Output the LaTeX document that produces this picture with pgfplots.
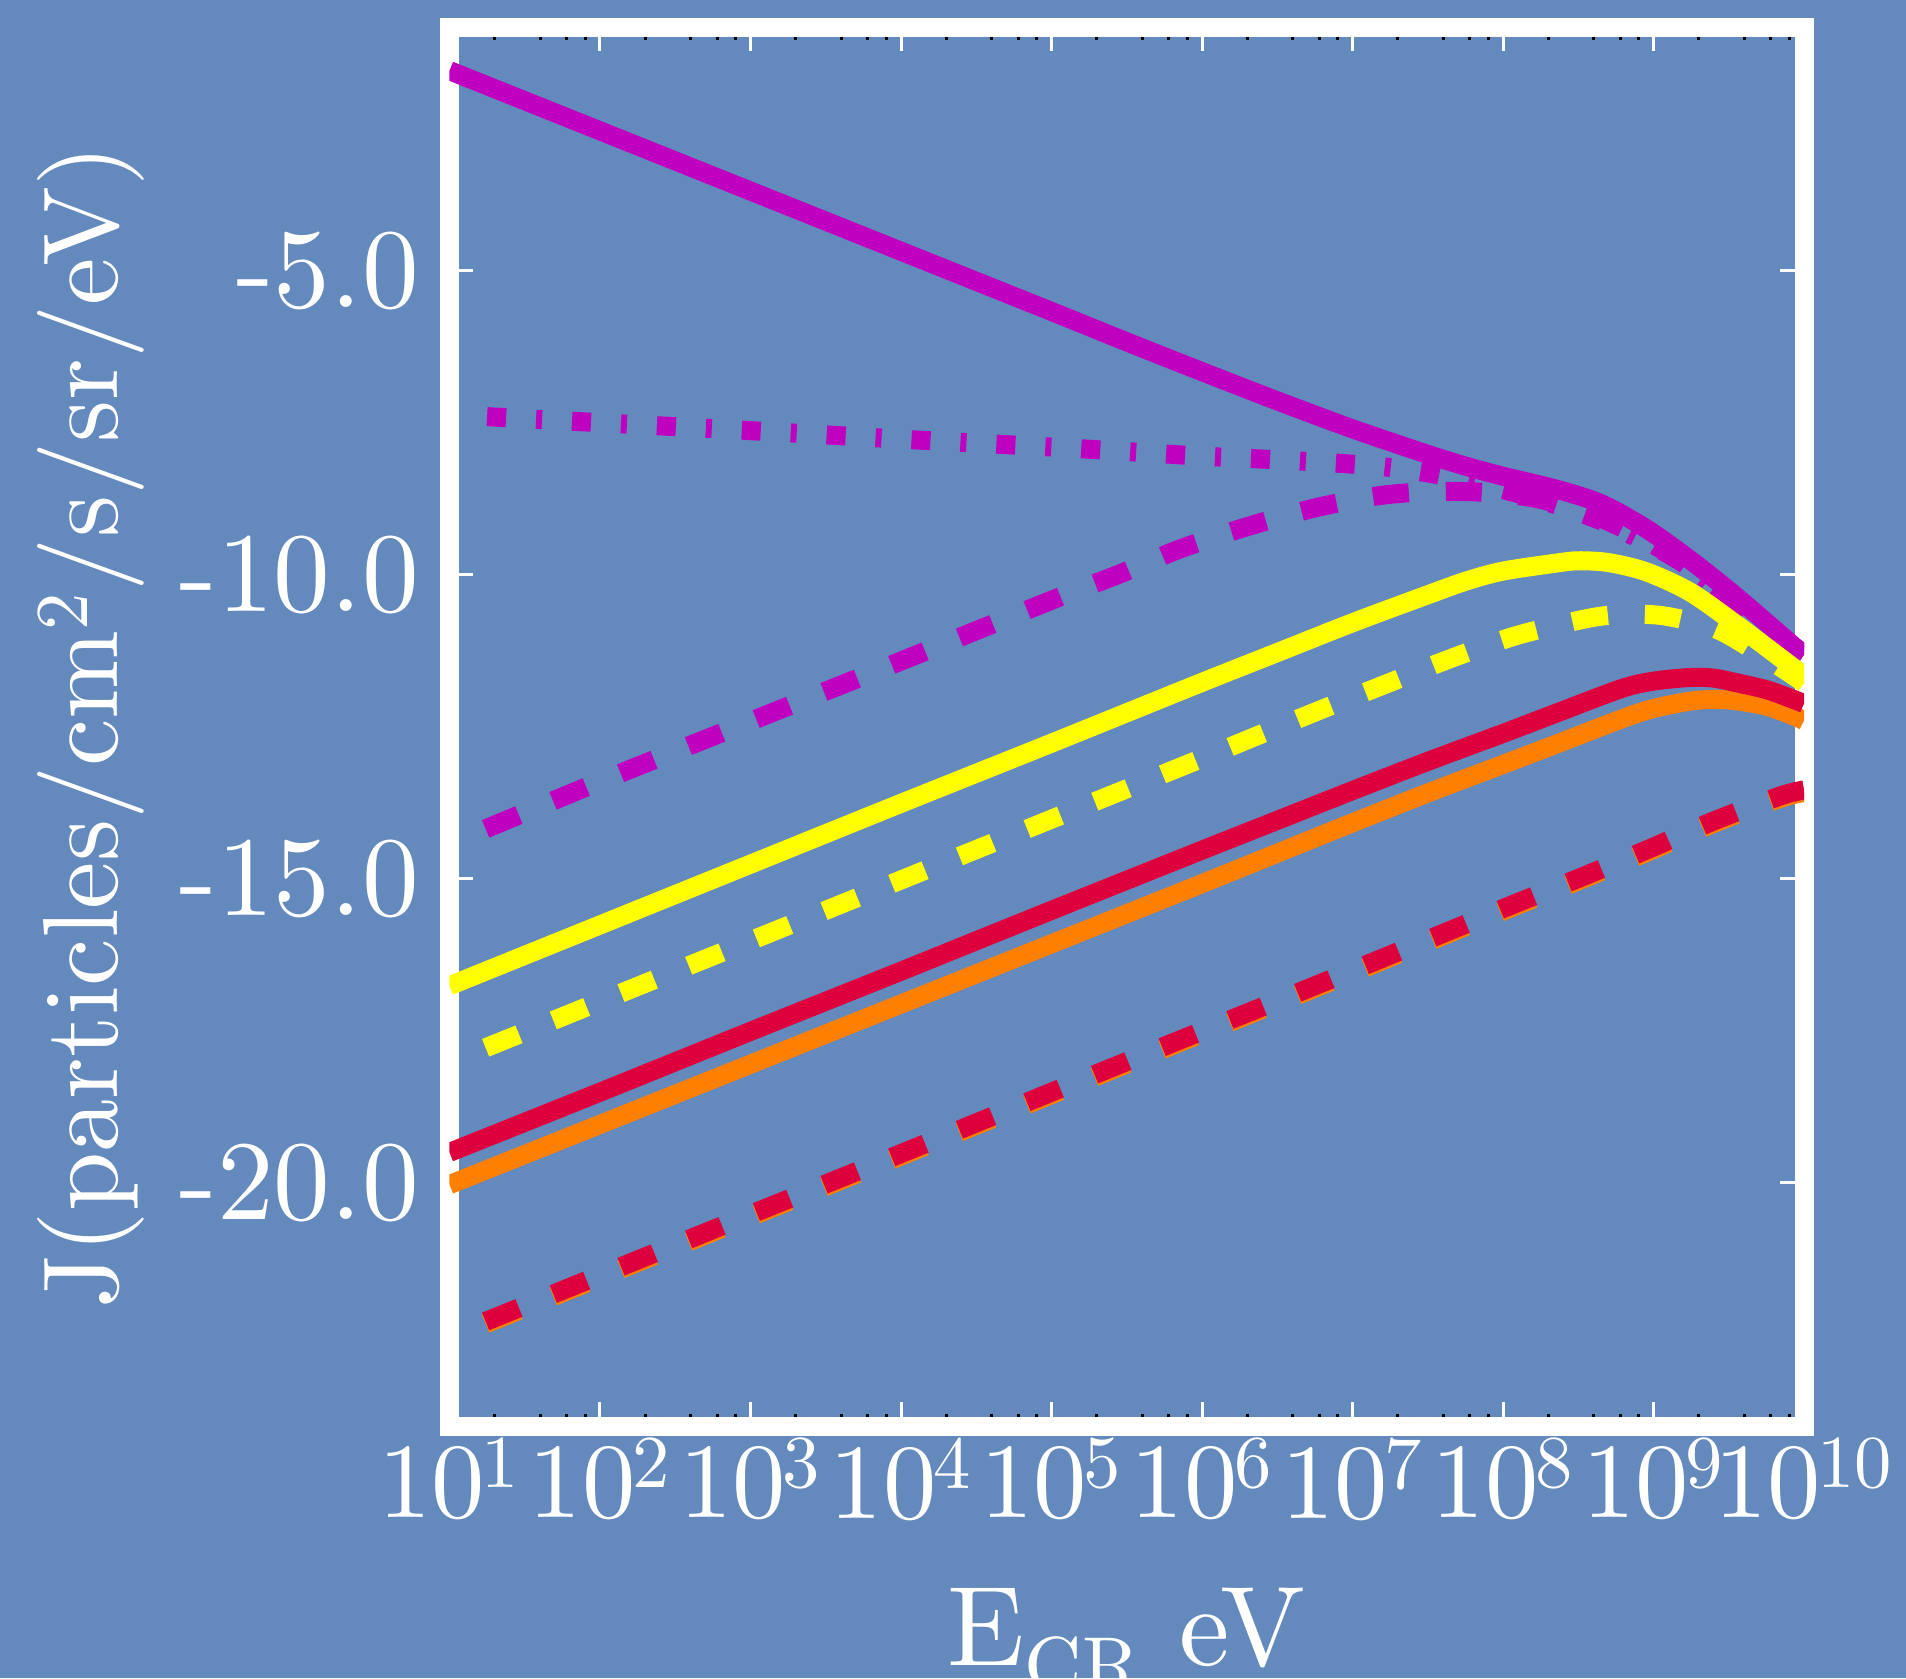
\documentclass[border=0pt]{standalone}
\usepackage{fontspec}
\setmainfont{lmroman10-regular.otf}
\usepackage{pgfplots}
\pgfplotsset{compat=1.18}
\definecolor{bg}{RGB}{100,137,189}
\definecolor{cmag}{RGB}{191,0,191}
\definecolor{cyel}{RGB}{255,255,0}
\definecolor{cred}{RGB}{222,0,60}
\definecolor{cora}{RGB}{255,128,0}
\newcommand{\tp}[1]{10\kern-1pt\textsuperscript{#1}}
\begin{document}
\begin{tikzpicture}
\path[fill=bg, use as bounding box] (-134.85pt,-75.6pt) rectangle (436.95pt,427.8pt);
\begin{axis}[
  at={(0,0)}, anchor=south west, scale only axis,
  width=406.35pt, height=419.55pt,
  xmin=1, xmax=10, ymin=-24, ymax=-1,
  axis line style={white, line width=5.7pt},
  tick align=inside,
  major tick length=7.2pt, minor tick length=3.75pt,
  major tick style={white, line width=0.9pt},
  minor tick style={black, line width=0.9pt},
  xtick={1,2,3,4,5,6,7,8,9,10},
  xticklabels={\tp{1},\tp{2},\tp{3},\tp{4},\tp{5},\tp{6},\tp{7},\tp{8},\tp{9},\tp{10}},
  minor xtick={1.30103,1.60206,1.77815,1.90309,2.30103,2.60206,2.77815,2.90309,3.30103,3.60206,3.77815,3.90309,4.30103,4.60206,4.77815,4.90309,5.30103,5.60206,5.77815,5.90309,6.30103,6.60206,6.77815,6.90309,7.30103,7.60206,7.77815,7.90309,8.30103,8.60206,8.77815,8.90309,9.30103,9.60206,9.77815,9.90309},
  ytick={-20,-15,-10,-5},
  yticklabels={-20.0,-15.0,-10.0,-5.0},
  tick label style={white, font=\fontsize{34}{40}\selectfont},
  xticklabel style={font=\fontsize{32}{38}\selectfont},
  yticklabel style={inner sep=0pt, xshift=-9pt},
  label style={white},
  xlabel={E\textsubscript{CR} eV},
  xlabel style={font=\fontsize{34}{40}\selectfont, at={(axis description cs:0.5,0)}, anchor=base, yshift=-71.7pt},
  ylabel={J(particles/cm\textsuperscript{2}/s/sr/eV)},
  ylabel style={font=\fontsize{32}{36}\selectfont, at={(axis description cs:-0.2646,0.5)}, anchor=center},
  every axis plot/.append style={no markers, smooth, line width=5.7pt, line cap=butt},
]
% magenta dash-dot
\addplot[cmag, dash pattern=on 5.7pt off 9pt on 1.8pt off 9pt] coordinates {
(1.25,-7.40) (2.0,-7.50) (3.0,-7.63) (4.0,-7.77) (5.0,-7.90) (5.54,-7.98) (6.0,-8.05) (6.5,-8.11) (6.96,-8.175) (7.23,-8.23) (7.51,-8.33) (7.8,-8.48) (8.21,-8.74) (8.65,-9.11) (9.07,-9.62) (9.30,-9.98) (9.6,-10.55) (10.0,-11.32)};
% magenta dashed
\addplot[cmag, dash pattern=on 10.8pt off 11.1pt] coordinates {
(1.24,-14.18) (2.0,-13.40) (3.0,-12.41) (4.0,-11.42) (5.0,-10.42) (5.45,-9.99) (5.85,-9.58) (6.30,-9.21) (6.77,-8.89) (7.24,-8.68) (7.73,-8.63) (8.21,-8.74) (8.66,-9.08) (9.08,-9.62) (9.5,-10.35) (10.0,-11.32)};
% magenta solid
\addplot[cmag] coordinates {
(1.0,-1.71) (2.0,-2.70) (3.0,-3.69) (4.0,-4.68) (5.0,-5.67) (5.5,-6.17) (6.0,-6.66) (6.5,-7.14) (7.0,-7.60) (7.5,-8.02) (7.76,-8.22) (8.0,-8.38) (8.35,-8.59) (8.65,-8.83) (8.95,-9.24) (9.24,-9.75) (9.54,-10.34) (9.93,-11.17) (10.0,-11.30)};
% yellow dashed
\addplot[cyel, dash pattern=on 10.8pt off 11.1pt] coordinates {
(1.24,-17.78) (2.0,-17.02) (3.0,-16.02) (4.0,-15.02) (5.0,-14.02) (6.0,-13.02) (6.74,-12.27) (7.20,-11.82) (7.64,-11.39) (8.09,-11.00) (8.56,-10.72) (8.8,-10.65) (9.05,-10.67) (9.3,-10.80) (9.49,-10.98) (9.85,-11.53) (10.0,-11.78)};
% yellow solid
\addplot[cyel] coordinates {
(1.0,-16.76) (2.0,-15.76) (3.0,-14.76) (4.0,-13.76) (5.0,-12.77) (6.0,-11.77) (6.5,-11.28) (7.0,-10.79) (7.5,-10.33) (7.76,-10.10) (8.0,-9.94) (8.35,-9.81) (8.5,-9.77) (8.7,-9.80) (8.95,-9.95) (9.24,-10.28) (9.54,-10.80) (9.93,-11.53) (10.0,-11.67)};
% orange dashed
\addplot[cora, dash pattern=on 10.8pt off 11.1pt] coordinates {
(1.24,-22.32) (2.0,-21.56) (3.0,-20.56) (4.0,-19.56) (5.0,-18.55) (5.845,-17.70) (6.74,-16.81) (7.63,-15.91) (8.07,-15.46) (8.525,-15.01) (8.97,-14.55) (9.4,-14.09) (9.84,-13.68) (10.0,-13.58)};
% red dashed
\addplot[cred, dash pattern=on 10.8pt off 11.1pt] coordinates {
(1.24,-22.28) (2.0,-21.52) (3.0,-20.52) (4.0,-19.52) (5.0,-18.51) (5.845,-17.66) (6.74,-16.77) (7.63,-15.87) (8.07,-15.42) (8.525,-14.97) (8.97,-14.51) (9.4,-14.05) (9.84,-13.64) (10.0,-13.54)};
% orange solid
\addplot[cora] coordinates {
(1.0,-20.03) (2.0,-19.04) (3.0,-18.05) (4.0,-17.06) (5.0,-16.07) (6.0,-15.08) (6.5,-14.58) (7.0,-14.08) (7.5,-13.59) (8.0,-13.12) (8.35,-12.79) (8.79,-12.37) (9.0,-12.20) (9.24,-12.08) (9.4,-12.05) (9.54,-12.07) (9.75,-12.16) (9.93,-12.32) (10.0,-12.40)};
% red solid
\addplot[cred] coordinates {
(1.0,-19.50) (2.0,-18.51) (3.0,-17.51) (4.0,-16.52) (5.0,-15.52) (6.0,-14.53) (6.5,-14.04) (7.0,-13.55) (7.5,-13.07) (8.0,-12.61) (8.35,-12.28) (8.79,-11.87) (9.0,-11.75) (9.24,-11.69) (9.4,-11.70) (9.54,-11.77) (9.75,-11.89) (9.93,-12.05) (10.0,-12.12)};
\end{axis}
\end{tikzpicture}
\end{document}
